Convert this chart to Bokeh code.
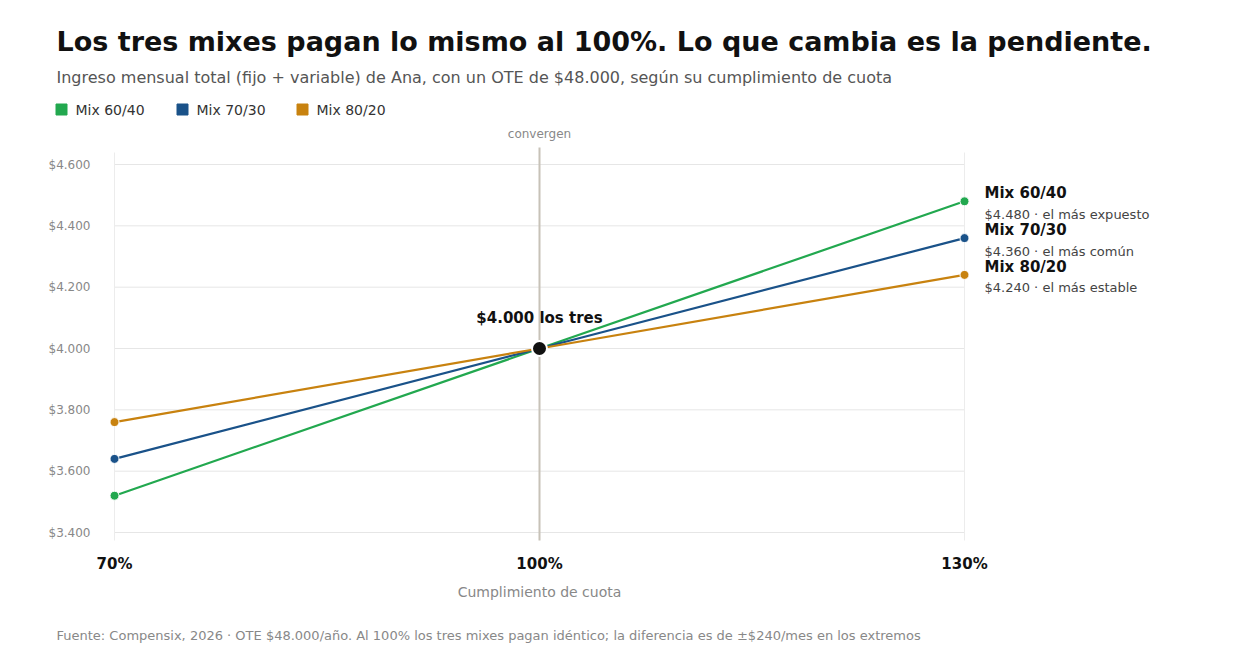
from bokeh.plotting import figure
from bokeh.core.properties import value
from bokeh.embed import file_html
from bokeh.resources import INLINE

quota = [70, 100, 130]
mix_names = ["Mix 60/40", "Mix 70/30", "Mix 80/20"]
mix_values = [[3520, 4000, 4480], [3640, 4000, 4360], [3760, 4000, 4240]]
mix_notes = ["$4.480 · el más expuesto", "$4.360 · el más común", "$4.240 · el más estable"]
colors = ["#22a84f", "#1a5289", "#c8820f"]
y_ticks = [3400, 3600, 3800, 4000, 4200, 4400, 4600]
y_labels = ["$3.400", "$3.600", "$3.800", "$4.000", "$4.200", "$4.400", "$4.600"]
x_labels = ["70%", "100%", "130%"]

F = value("DejaVu Sans")
W, H = 1224, 652
# page pixel -> data mapping (layout helpers)
XS = (972 - 122) / 60.0
YS = (540 - 172) / 1200.0
def X(px): return 70 + (px - 122) / XS
def Y(py): return 4600 - (py - 172) / YS

p = figure(width=W, height=H, output_backend="svg", toolbar_location=None,
           x_range=(X(8), X(8 + W)), y_range=(Y(8 + H), Y(8)),
           min_border=0, min_border_left=0, min_border_right=0, min_border_top=0, min_border_bottom=0)
p.outline_line_color = None
p.grid.visible = False
p.axis.visible = False

def txt(x, y, s, size, color, bold=False, align="left", yo=0):
    p.text(x=[x], y=[y], text=[s], text_font=F, text_font_size=size, text_color=color,
           text_font_style="bold" if bold else "normal", text_align=align,
           text_baseline="middle", y_offset=yo)

# grid
for yt, yl in zip(y_ticks, y_labels):
    p.segment(x0=quota[0], x1=quota[-1], y0=yt, y1=yt, color="#e6e6e6", line_width=1)
    txt(X(98), yt, yl, "12px", "#888888", align="right")
for xt in [quota[0], quota[-1]]:
    p.segment(x0=xt, x1=xt, y0=Y(548), y1=Y(160), color="#ececec", line_width=1)
p.segment(x0=quota[1], x1=quota[1], y0=Y(548), y1=Y(155), color="#c7c2b8", line_width=2)
txt(quota[1], Y(141), "convergen", "12px", "#888888", align="center")

for q, l in zip(quota, x_labels):
    txt(q, Y(571), l, "15px", "#111111", bold=True, align="center")
txt(quota[1], Y(599), "Cumplimiento de cuota", "14px", "#888888", align="center")

for i, (name, vals, note, c) in enumerate(zip(mix_names, mix_values, mix_notes, colors)):
    p.line(quota, vals, color=c, line_width=2.2)
    p.scatter([quota[0], quota[2]], [vals[0], vals[2]], size=9, color=c, line_color="white", line_width=1)
    txt(X(992), vals[2], name, "15px", "#111111", bold=True, yo=-8)
    txt(X(992), vals[2], note, "13px", "#444444", yo=13)
    lx = [69, 190, 310][i]
    p.scatter([X(lx)], [Y(117)], marker="square", size=11, color=c)
    txt(X(lx + 14), Y(117), name, "14px", "#333333")

p.scatter([quota[1]], [4000], size=15, color="#111111", line_color="white", line_width=2)
txt(quota[1], 4000, "$4.000 los tres", "15px", "#111111", bold=True, align="center", yo=-31)

txt(X(64), Y(49), "Los tres mixes pagan lo mismo al 100%. Lo que cambia es la pendiente.", "27px", "#111111", bold=True)
txt(X(64), Y(85), "Ingreso mensual total (fijo + variable) de Ana, con un OTE de $48.000, según su cumplimiento de cuota", "16px", "#555555")
txt(X(64), Y(643), "Fuente: Compensix, 2026 · OTE $48.000/año. Al 100% los tres mixes pagan idéntico; la diferencia es de ±$240/mes en los extremos", "13px", "#888888")

open("out.html", "w").write(file_html(p, INLINE))
